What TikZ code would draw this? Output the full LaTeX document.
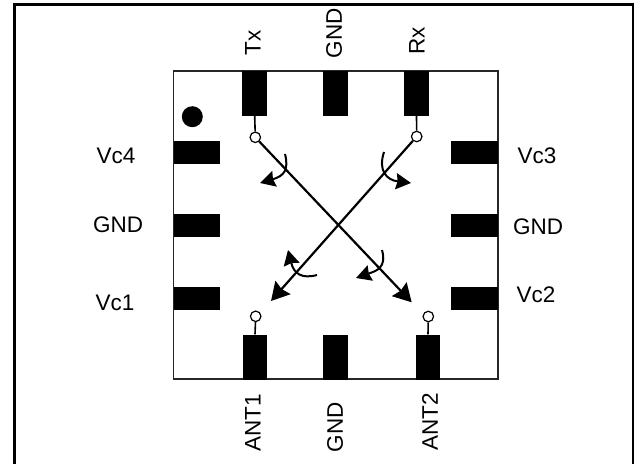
\documentclass[tikz,border=0pt]{standalone}
\usepackage{fontspec}
\setmainfont{Liberation Sans}
\usetikzlibrary{arrows.meta}
\tikzset{
  pkg/.style={draw=black!85,line width=1.3pt,fill=white,minimum width=324.5pt,minimum height=308pt,inner sep=0pt},
  vpad/.style={fill=black,minimum width=24.5pt,minimum height=45pt,inner sep=0pt},
  hpad/.style={fill=black,minimum width=46.5pt,minimum height=23pt,inner sep=0pt},
  term/.style={circle,draw=black,line width=1.2pt,fill=white,minimum size=10.5pt,inner sep=0pt},
  stem/.style={line width=1.6pt},
  lbl/.style={inner sep=0pt,font=\fontsize{22.5}{25}\selectfont},
  sig/.style={line width=2.2pt,-{Stealth[length=18pt,width=20pt,inset=2pt]}},
  swirl/.style={line width=2pt,-{Stealth[length=15pt,width=16pt,inset=1.5pt]}},
  frameline/.style={line width=2.7pt}
}
\begin{document}
\begin{tikzpicture}[x=1pt,y=-1pt]
\useasboundingbox (0,0) rectangle (634,464);
\coordinate (fa) at (14.6,464);
\coordinate (fb) at (14.6,4.4);
\coordinate (fc) at (633.4,4.4);
\coordinate (fd) at (633.4,464);
\draw[frameline] (fa) -- (fb) -- (fc) -- (fd);
\node[pkg] (pkg) at (335.7,225) {};
% pads
\node[vpad] (pTx) at (254.7,93.5) {};
\node[vpad] (pGt) at (335.5,93.5) {};
\node[vpad] (pRx) at (416.5,93.5) {};
\node[vpad] (pA1) at (255,357) {};
\node[vpad] (pGb) at (335.7,357) {};
\node[vpad] (pA2) at (428,357) {};
\node[hpad] (pV4) at (197,152.5) {};
\node[hpad] (pGl) at (197,225.5) {};
\node[hpad] (pV1) at (197,298) {};
\node[hpad] (pV3) at (474.5,152.5) {};
\node[hpad] (pGr) at (474.5,225.5) {};
\node[hpad] (pV2) at (474.5,298) {};
\node[circle,fill=black,minimum size=21pt,inner sep=0pt] (dot) at (192.3,116.7) {};
% terminals
\node[term] (tTx) at (255.3,137.3) {};
\node[term] (tRx) at (416.7,136.5) {};
\node[term] (tA1) at (255.7,316.3) {};
\node[term] (tA2) at (428.3,316.5) {};
\draw[stem] (pTx.south) -- (tTx);
\draw[stem] (pRx.south) -- (tRx);
\draw[stem] (pA1.north) -- (tA1);
\draw[stem] (pA2.north) -- (tA2);
% crossing signal paths
\coordinate (eA) at (411.7,302.3);
\coordinate (eB) at (271,301);
\draw[sig] (tTx) -- (eA);
\draw[sig] (tRx) -- (eB);
% swirl arrows
\coordinate (s1a) at (285,154); \coordinate (s1b) at (260,183);
\coordinate (s2a) at (384,152); \coordinate (s2b) at (411,183);
\coordinate (s3a) at (317,275); \coordinate (s3b) at (288,250);
\coordinate (s4a) at (382,250); \coordinate (s4b) at (356,278);
\draw[swirl] (s1a) .. controls (289,170) and (284,176) .. (s1b);
\draw[swirl] (s2a) .. controls (378,170) and (386,180) .. (s2b);
\draw[swirl] (s3a) .. controls (302,279) and (294,274) .. (s3b);
\draw[swirl] (s4a) .. controls (387,268) and (376,271) .. (s4b);
% labels
\node[lbl,rotate=90] (lTx) at (253,42.5) {Tx};
\node[lbl,rotate=90] (lGt) at (334,33.5) {GND};
\node[lbl,rotate=90] (lRx) at (417,40.5) {Rx};
\node[lbl,rotate=90] (lA1) at (253,423) {ANT1};
\node[lbl,rotate=90] (lGb) at (335,427) {GND};
\node[lbl,rotate=90] (lA2) at (430,422) {ANT2};
\node[lbl] (lV4) at (116,156) {Vc4};
\node[lbl] (lGl) at (118,225) {GND};
\node[lbl] (lV1) at (115,303) {Vc1};
\node[lbl] (lV3) at (537,156) {Vc3};
\node[lbl] (lGr) at (538,227) {GND};
\node[lbl] (lV2) at (536,295) {Vc2};
\end{tikzpicture}
\end{document}
